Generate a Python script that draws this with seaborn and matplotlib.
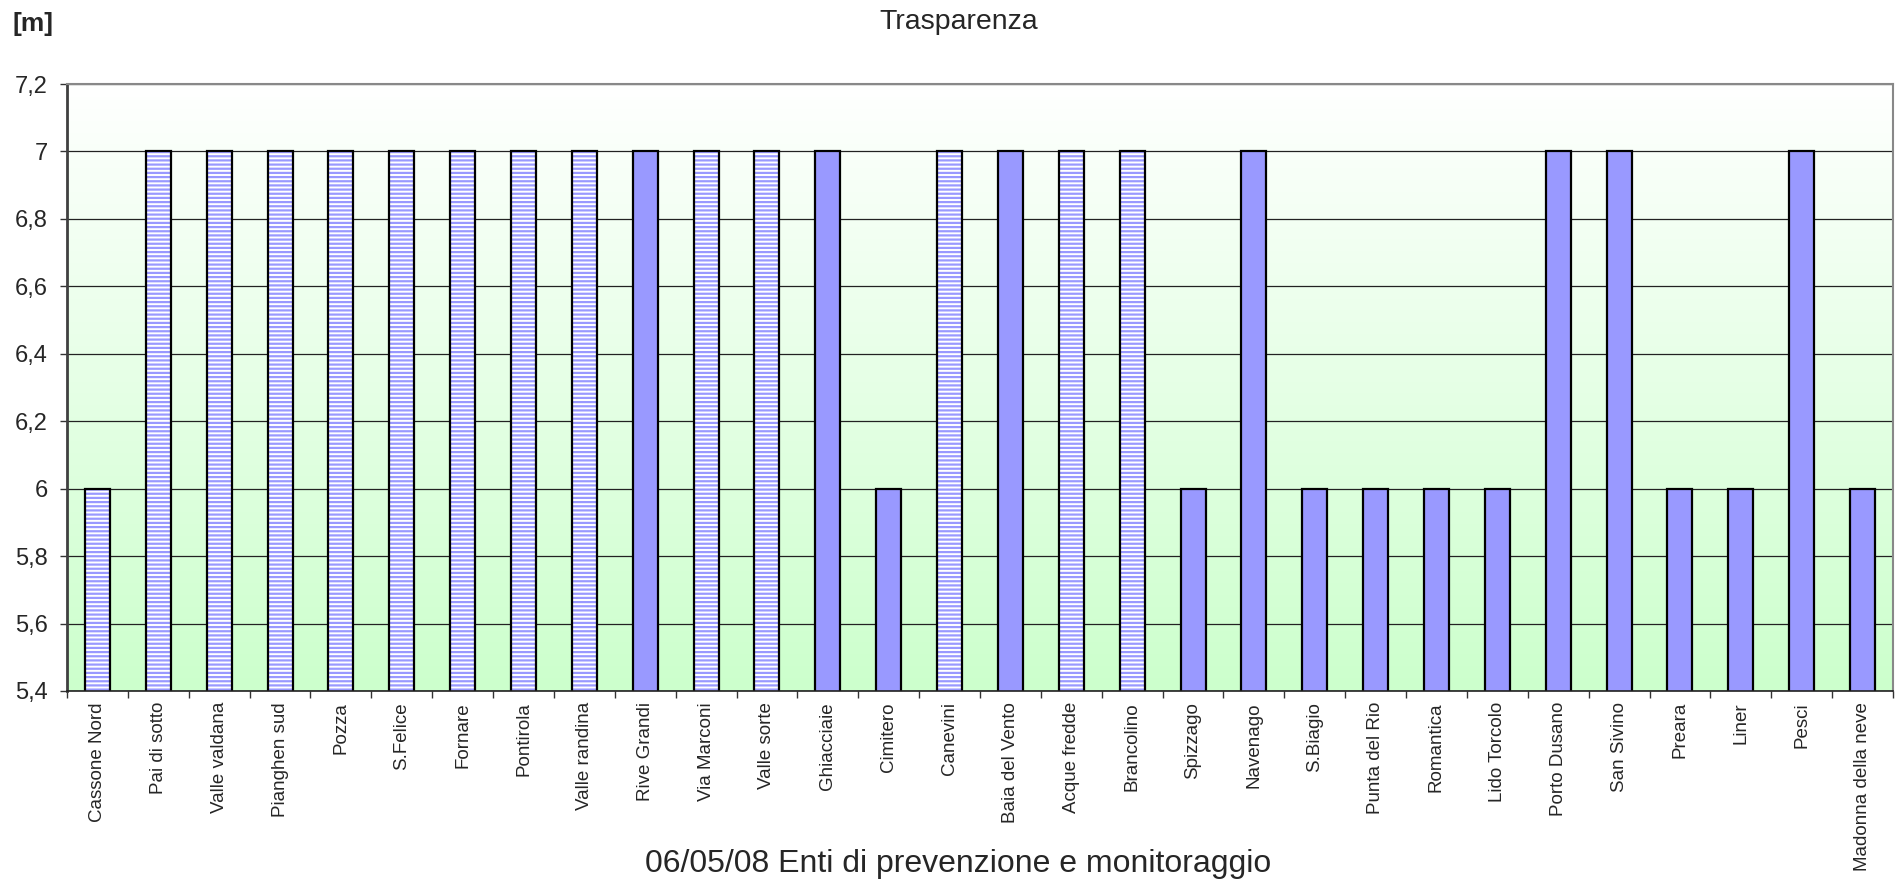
import numpy as np
import pandas as pd
import matplotlib
matplotlib.use("Agg")
import matplotlib.pyplot as plt
from matplotlib.patches import Rectangle
import seaborn as sns

# Transparency readings per bathing site (metres)
sites = [
    "Cassone Nord", "Pai di sotto", "Valle valdana", "Pianghen sud", "Pozza",
    "S.Felice", "Fornare", "Pontirola", "Valle randina", "Rive Grandi",
    "Via Marconi", "Valle sorte", "Ghiacciaie", "Cimitero", "Canevini",
    "Baia del Vento", "Acque fredde", "Brancolino", "Spizzago", "Navenago",
    "S.Biagio", "Punta del Rio", "Romantica", "Lido Torcolo", "Porto Dusano",
    "San Sivino", "Preara", "Liner", "Pesci", "Madonna della neve",
]
transparency = [
    6, 7, 7, 7, 7, 7, 7, 7, 7, 7,
    7, 7, 7, 6, 7, 7, 7, 7, 6, 7,
    6, 6, 6, 6, 7, 7, 6, 6, 7, 6,
]
# Monitoring body: "A" drawn striped, "B" drawn solid
body = [
    "A", "A", "A", "A", "A", "A", "A", "A", "A", "B",
    "A", "A", "B", "B", "A", "B", "A", "A", "B", "B",
    "B", "B", "B", "B", "B", "B", "B", "B", "B", "B",
]
y_ticks = [5.4, 5.6, 5.8, 6.0, 6.2, 6.4, 6.6, 6.8, 7.0, 7.2]
y_tick_labels = ["5,4", "5,6", "5,8", "6", "6,2", "6,4", "6,6", "6,8", "7", "7,2"]

df = pd.DataFrame({"site": sites, "value": transparency, "body": body})

BAR = "#9999FF"

sns.set_theme(style="white")
plt.rcParams["font.family"] = ["Liberation Sans", "DejaVu Sans"]
plt.rcParams["hatch.linewidth"] = 1.6

fig = plt.figure(figsize=(18.98, 8.83), dpi=100)
ax = fig.add_axes([67 / 1898, 192 / 883, 1826 / 1898, 607 / 883])

# vertical gradient of the plot area: white at the top, pale green at the bottom
grad = np.linspace(0, 1, 256).reshape(-1, 1)
cmap = matplotlib.colors.LinearSegmentedColormap.from_list("bg", ["#FFFFFF", "#CCFFCC"])
ax.imshow(grad, cmap=cmap, aspect="auto", origin="upper",
          extent=(-0.5, len(sites) - 0.5, 5.4, 7.2),
          zorder=0, interpolation="bilinear")

sns.barplot(data=df, x="site", y="value", hue="body", dodge=False,
            palette={"A": BAR, "B": BAR}, width=0.41, legend=False,
            edgecolor="black", linewidth=1.6, saturation=1, ax=ax, zorder=3)

# striped bars: blue horizontal hatch on white, with black outline on top
bar_patches = [p for p in ax.patches if isinstance(p, Rectangle) and p.get_height() > 0]
bar_patches.sort(key=lambda p: p.get_x())
for p, b in zip(bar_patches, body):
    if b == "A":
        p.set_facecolor("white")
        p.set_edgecolor(BAR)
        p.set_linewidth(0)
        p.set_hatch("----")
        ax.add_patch(Rectangle(p.get_xy(), p.get_width(), p.get_height(),
                               facecolor="none", edgecolor="black",
                               linewidth=1.6, zorder=4))

ax.set_xlim(-0.5, len(sites) - 0.5)
ax.set_ylim(5.4, 7.2)
ax.set_yticks(y_ticks)
ax.set_yticklabels(y_tick_labels, fontsize=17)
ax.yaxis.grid(True, color="#222222", linewidth=0.9, zorder=1)
ax.set_axisbelow(True)
ax.tick_params(axis="y", direction="out", length=5, width=1, color="#333333",
               pad=9, left=True)

# category labels under bars, tick marks at category boundaries
ax.set_xticks(range(len(sites)))
ax.set_xticklabels(sites, rotation=90, fontsize=13.5, va="top")
ax.tick_params(axis="x", which="major", length=0, pad=8)
ax.set_xticks(np.arange(-0.5, len(sites), 1.0), minor=True)
ax.tick_params(axis="x", which="minor", direction="out", length=5, width=1,
               color="#333333", bottom=True)

for side, col, lw in (("left", "#404040", 2.0), ("bottom", "#202020", 1.2),
                      ("top", "#888888", 1.5), ("right", "#888888", 1.5)):
    ax.spines[side].set_visible(True)
    ax.spines[side].set_color(col)
    ax.spines[side].set_linewidth(lw)
    ax.spines[side].set_zorder(5)

ax.set_xlabel("06/05/08 Enti di prevenzione e monitoraggio", fontsize=23,
              va="center")
ax.xaxis.set_label_coords((958 - 67) / 1826, -173 / 607)
ax.set_ylabel("")

fig.text(959 / 1898, 1 - 22 / 883, "Trasparenza", ha="center", va="center",
         fontsize=20.5)
fig.text(12 / 1898, 1 - 24 / 883, "[m]", ha="left", va="center",
         fontsize=19, fontweight="bold")

fig.savefig("out.png", dpi=100, facecolor="white")
